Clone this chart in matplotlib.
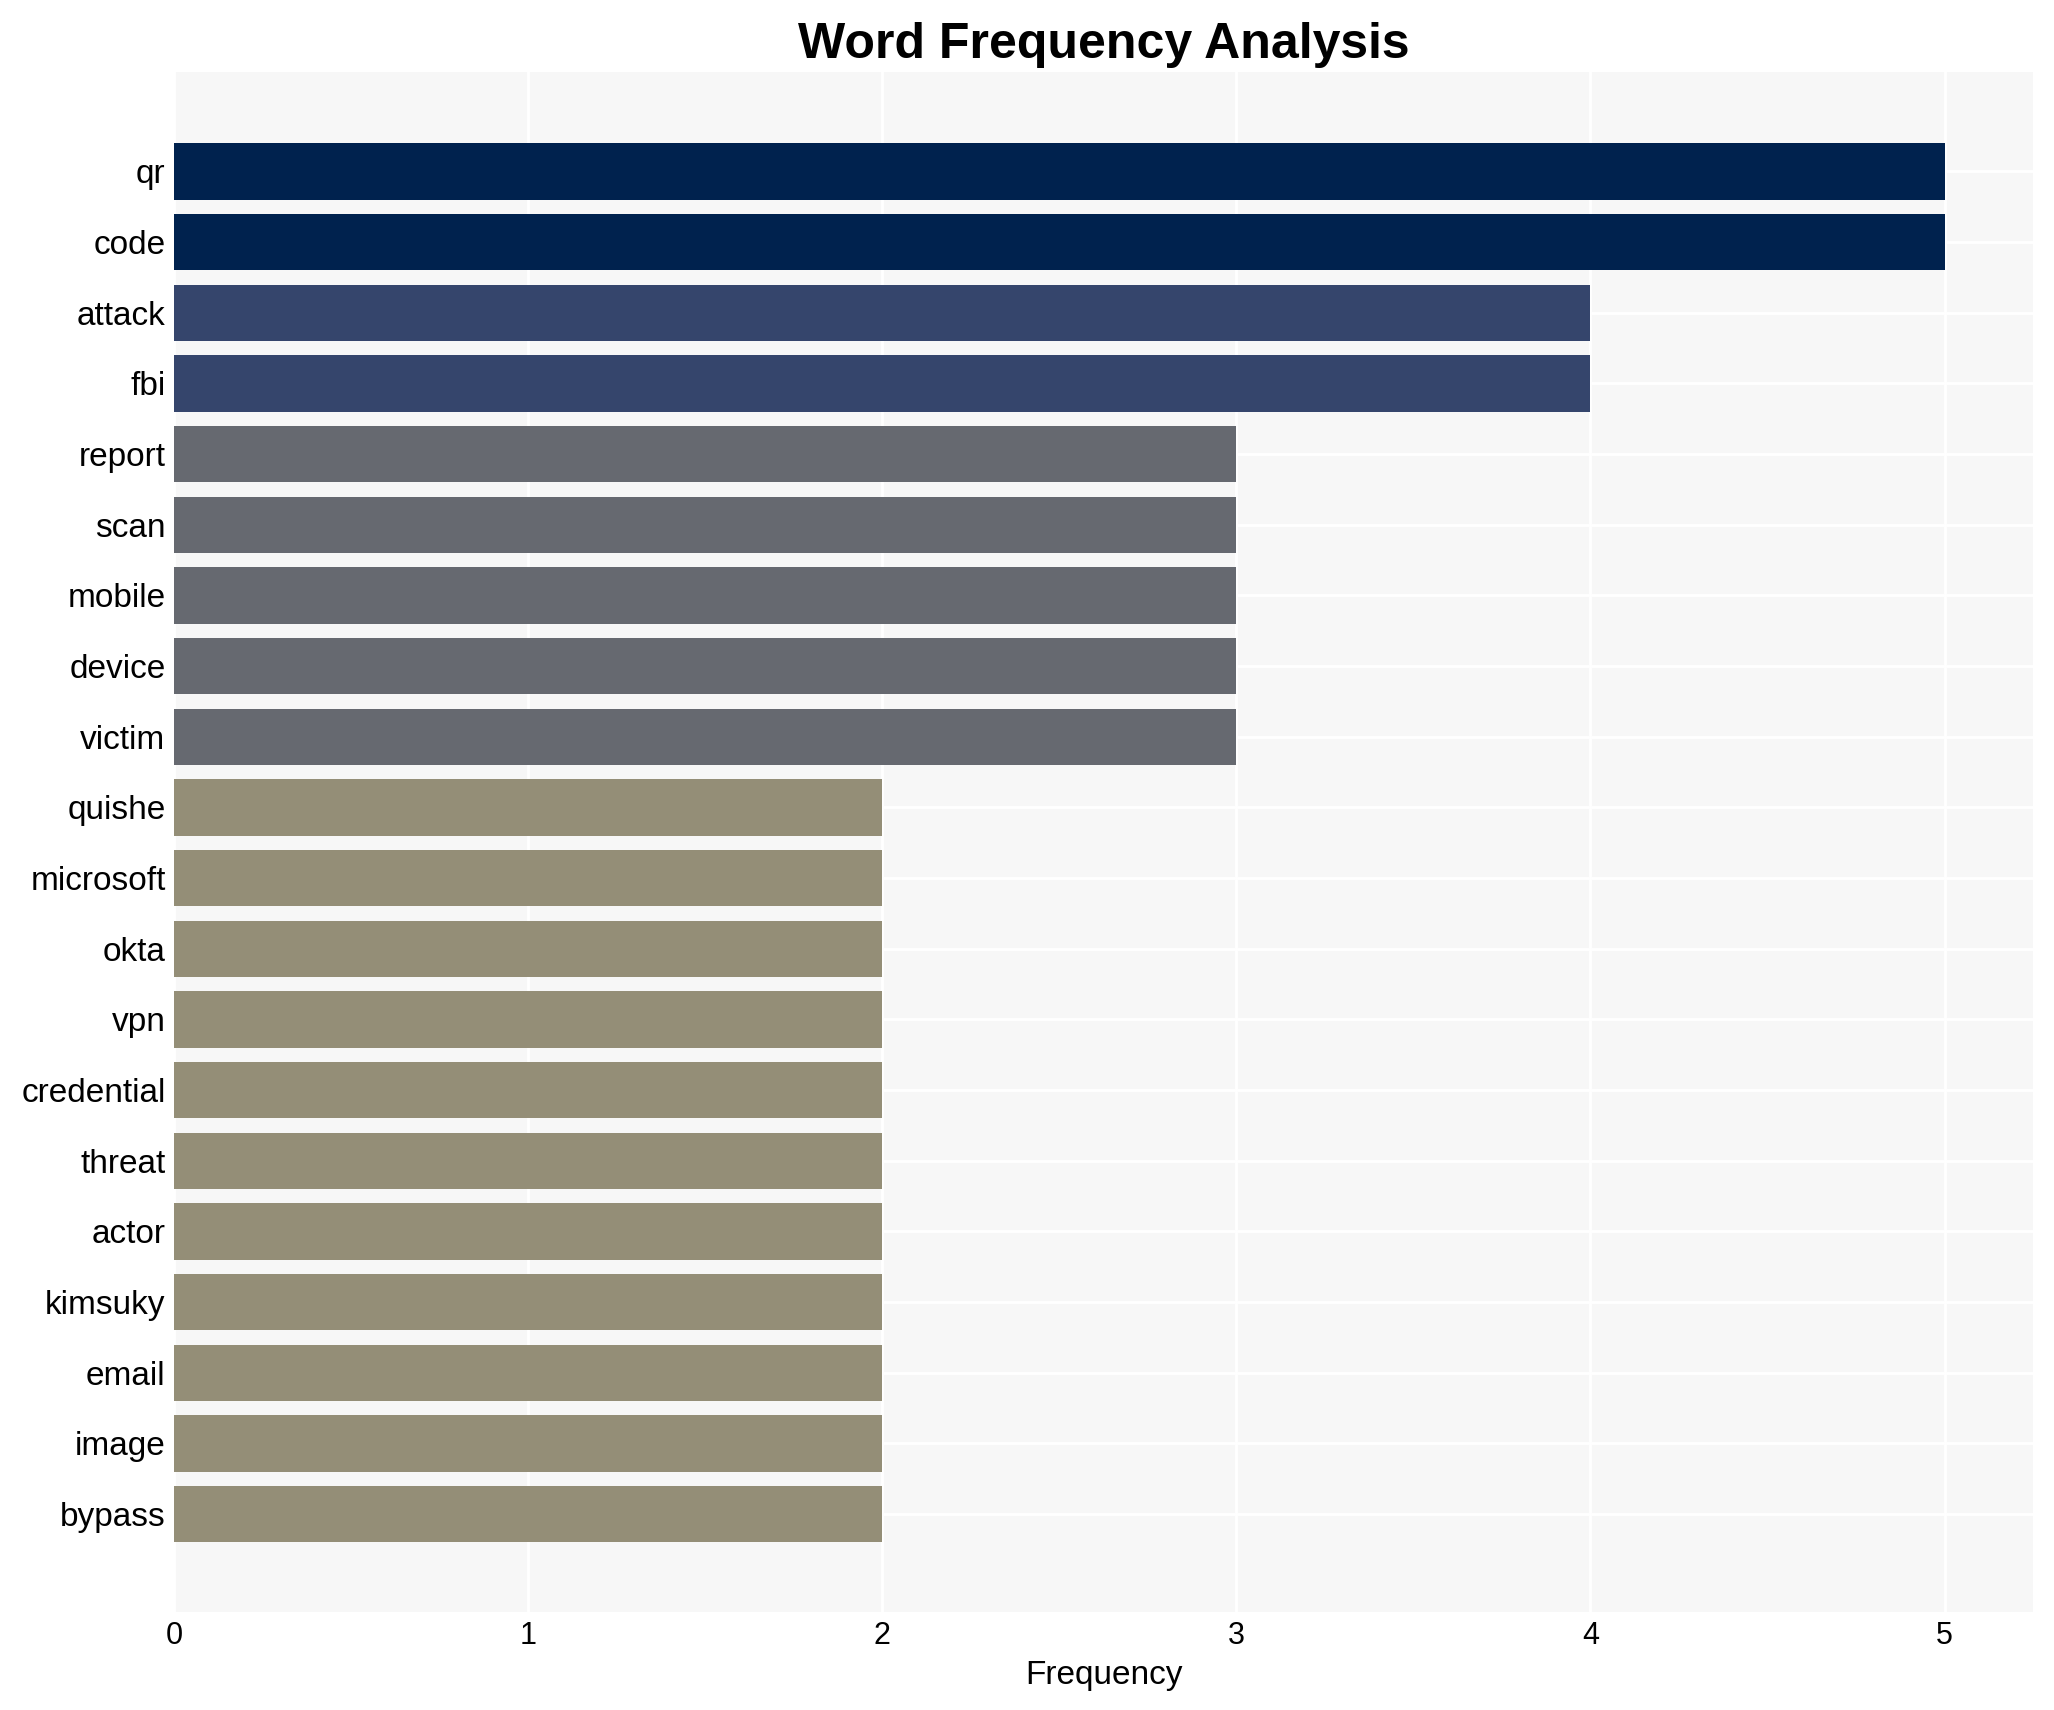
import numpy as np
import matplotlib.pyplot as plt

words = ['qr', 'code', 'attack', 'fbi', 'report', 'scan', 'mobile', 'device',
         'victim', 'quishe', 'microsoft', 'okta', 'vpn', 'credential', 'threat',
         'actor', 'kimsuky', 'email', 'image', 'bypass']
counts = [5, 5, 4, 4, 3, 3, 3, 3, 3, 2, 2, 2, 2, 2, 2, 2, 2, 2, 2, 2]

plt.rcParams['font.family'] = ['Liberation Sans', 'DejaVu Sans']

fig = plt.figure(figsize=(10.27, 8.55), dpi=200)
ax = fig.add_axes([0.0847, 0.0575, 0.9051, 0.9005])
ax.set_facecolor('#f7f7f7')

# darker colour for higher counts
cmap = plt.cm.cividis
colors = [cmap((max(counts) - c) * 0.2) for c in counts]

y = np.arange(len(words))
ax.barh(y, counts, height=0.8, color=colors, zorder=2)

ax.set_yticks(y)
ax.set_yticklabels(words, fontsize=12)
ax.set_ylim(len(words) - 1 + 1.38, -1.41)
ax.set_xlim(0, max(counts) * 1.05)
ax.set_xticks(range(0, 6))
ax.tick_params(axis='x', labelsize=11, length=0, pad=3.5)
ax.tick_params(axis='y', length=0, pad=3)
ax.set_xlabel('Frequency', fontsize=12, labelpad=3)
ax.set_title('Word Frequency Analysis', fontsize=18, fontweight='bold', pad=5)

ax.grid(True, color='white', linewidth=1, zorder=0)
ax.set_axisbelow(True)
for s in ax.spines.values():
    s.set_visible(False)

fig.savefig('out.png', dpi=200)
